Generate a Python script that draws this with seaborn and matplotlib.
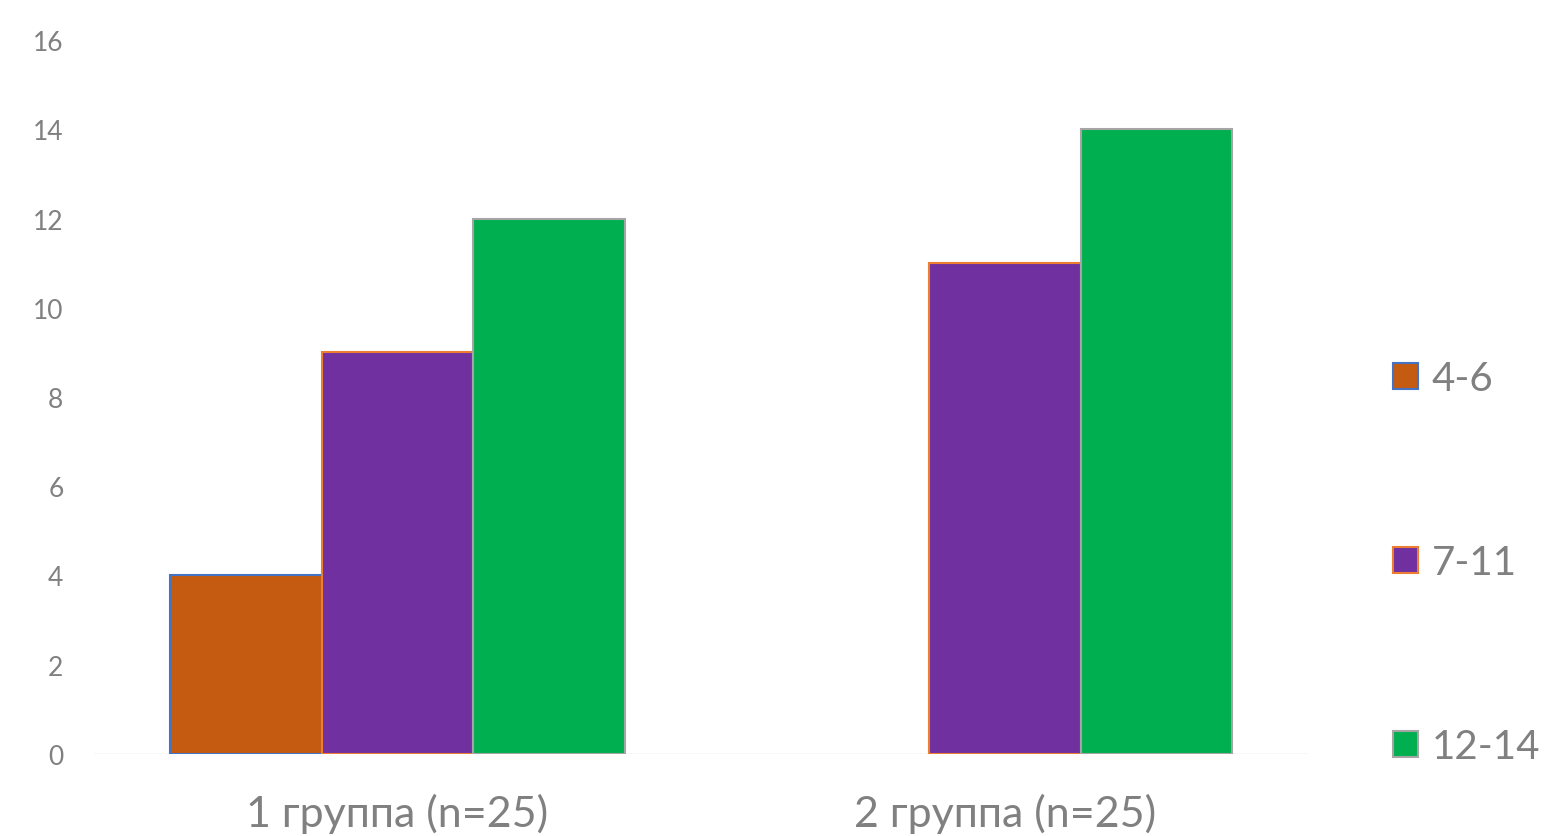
import matplotlib
matplotlib.use("Agg")
import matplotlib.pyplot as plt
import seaborn as sns
import pandas as pd
from matplotlib.patches import Patch

groups = ["1 группа (n=25)", "2 группа (n=25)"]
ages = ["4-6", "7-11", "12-14"]
vals_46 = [4, 0]
vals_711 = [9, 11]
vals_1214 = [12, 14]

fills = ["#C55A11", "#7030A0", "#00B050"]
edges = ["#4472C4", "#ED7D31", "#A5A5A5"]

df = pd.DataFrame({
    "group": groups * 3,
    "age": [a for a in ages for _ in groups],
    "value": vals_46 + vals_711 + vals_1214,
})

sns.set_theme(style="white")
plt.rcParams["font.family"] = ["Lato", "DejaVu Sans"]

fig = plt.figure(figsize=(15.45, 8.37), dpi=100)
ax = fig.add_axes([0.0608, 0.098, 0.786, 0.853])

sns.barplot(data=df, x="group", y="value", hue="age", order=groups, hue_order=ages,
            palette=fills, width=0.75, gap=0, errorbar=None, legend=False,
            saturation=1, ax=ax)

for cont, ec in zip(ax.containers, edges):
    for p in cont:
        p.set_edgecolor(ec)
        p.set_linewidth(1.5)
        if p.get_height() == 0:
            p.set_visible(False)

ax.set_xlim(-0.5, 1.5)
ax.set_ylim(0, 16)
ax.set_yticks(range(0, 17, 2))
ax.set_xlabel("")
ax.set_ylabel("")
for s in ax.spines.values():
    s.set_visible(False)
ax.axhline(0, color="#D9D9D9", lw=1, zorder=0)
ax.tick_params(axis="y", length=0, labelsize=19, labelcolor="#808080", pad=22)
ax.tick_params(axis="x", length=0, labelsize=31, labelcolor="#808080", pad=28)

handles = [Patch(facecolor=f, edgecolor=e, linewidth=1.5, label=a)
           for f, e, a in zip(fills, edges, ages)]
fig.legend(handles=handles, loc="center left", bbox_to_anchor=(0.878, 0.327),
           frameon=False, fontsize=29, labelcolor="#808080", labelspacing=3.65,
           handlelength=0.62, handleheight=0.62, handletextpad=0.35)

fig.savefig("out.png", dpi=100)
